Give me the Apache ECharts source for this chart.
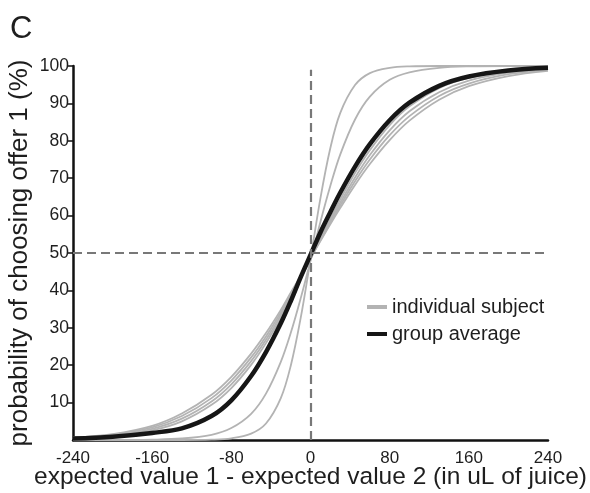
<!DOCTYPE html>
<html>
<head>
<meta charset="utf-8">
<script src="https://cdn.jsdelivr.net/npm/echarts@6/dist/echarts.min.js"></script>
<style>
  html, body { margin: 0; padding: 0; background: #fff; }
  #chart { width: 590px; height: 493px; }
</style>
</head>
<body>
<div id="chart"></div>
<script>
// Value difference (uL of juice) at which each psychometric curve is sampled
const xValues = [-240, -200, -160, -130, -100, -80, -60, -45, -30, -20, -10, 0, 10, 20, 30, 45, 60, 80, 100, 130, 160, 200, 240];

// Probability of choosing offer 1 (%) for each subject
const subject1 = [0, 0, 0, 0, 0.1, 0.45, 1.7, 4.4, 11.2, 19.8, 32.5, 48.3, 64.6, 78.0, 87.4, 94.9, 98.1, 99.5, 99.9, 100, 100, 100, 100];
const subject2 = [0, 0, 0.1, 0.4, 1.4, 3.2, 7.0, 12.4, 20.9, 28.6, 37.8, 47.9, 58.3, 67.9, 76.3, 85.7, 91.8, 96.3, 98.3, 99.5, 99.9, 100, 100];
const subject3 = [0.4, 1.0, 2.6, 5.0, 9.4, 13.9, 20.1, 25.9, 32.7, 37.7, 43.0, 48.4, 53.8, 59.1, 64.3, 71.4, 77.5, 84.2, 89.2, 94.1, 96.8, 98.6, 99.4];
const subject4 = [0.5, 1.2, 3.0, 5.7, 10.3, 14.9, 21.1, 26.8, 33.4, 38.3, 43.3, 48.5, 53.6, 58.6, 63.4, 70.2, 76.2, 82.8, 87.9, 93.0, 96.1, 98.2, 99.2];
const subject5 = [0.6, 1.4, 3.4, 6.4, 11.2, 15.9, 22.1, 27.7, 34.1, 38.9, 43.6, 48.6, 53.4, 58.1, 62.7, 69.2, 75.0, 81.5, 86.6, 92.0, 95.3, 97.8, 99.0];
const subject6 = [0.7, 1.6, 3.8, 7.1, 12.1, 16.9, 23.1, 28.6, 34.8, 39.4, 43.9, 48.6, 53.2, 57.7, 62.0, 68.2, 73.8, 80.2, 85.4, 91.0, 94.6, 97.3, 98.7];

// Group average curve
const groupAverage = [0.4, 0.9, 1.9, 3.1, 6.4, 10.6, 17.1, 23.5, 31.2, 37.1, 43.5, 49.5, 55.5, 60.9, 66.1, 73.1, 79.1, 85.5, 90.2, 94.7, 97.2, 98.8, 99.5];

// Axis ticks
const yTickValues = [10, 20, 30, 40, 50, 60, 70, 80, 90, 100];
const xRange = [-240, 240];
const xStep = 80;

const FONT = '"Liberation Sans", Arial, Helvetica, sans-serif';
const GRAY = '#b3b3b3';
const BLACK = '#161616';

const subjects = [subject1, subject2, subject3, subject4, subject5, subject6];
const toPairs = ys => xValues.map((x, i) => [x, ys[i]]);

const guideLines = {
  silent: true,
  symbol: 'none',
  label: { show: false },
  lineStyle: { color: '#787878', width: 2.2, type: [9, 5] },
  data: [
    [{ coord: [0, 0] }, { coord: [0, 99] }],
    [{ coord: [xRange[0], 50] }, { coord: [xRange[1], 50] }]
  ]
};

const subjectSeries = subjects.map((ys, i) => ({
  type: 'line',
  name: 'individual subject',
  data: toPairs(ys),
  smooth: 0.35,
  symbol: 'none',
  showSymbol: false,
  itemStyle: { color: GRAY },
  lineStyle: { color: GRAY, width: 1.8 },
  z: 2,
  markLine: i === 0 ? guideLines : undefined
}));

const chart = echarts.init(document.getElementById('chart'), null, { renderer: 'canvas' });
chart.setOption({
  animation: false,
  backgroundColor: '#fff',
  textStyle: { fontFamily: FONT },
  grid: { left: 73, right: 42, top: 66, bottom: 53, containLabel: false, outerBoundsMode: 'none' },
  graphic: [{
    type: 'text',
    left: 10,
    top: 14,
    style: { text: 'C', fontSize: 31, fontFamily: FONT, fill: '#1e1e1e' }
  }],
  legend: {
    data: ['individual subject', 'group average'],
    orient: 'vertical',
    left: 362,
    top: 292,
    itemWidth: 20,
    itemHeight: 4,
    itemGap: 7,
    icon: 'rect',
    textStyle: { fontSize: 20, fontFamily: FONT, color: '#1e1e1e', lineHeight: 20 }
  },
  xAxis: {
    type: 'value',
    min: xRange[0],
    max: xRange[1],
    interval: xStep,
    axisLine: { onZero: false, lineStyle: { color: '#111', width: 2.5 } },
    axisTick: { show: false },
    splitLine: { show: false },
    axisLabel: { margin: 10, fontSize: 17, color: '#1e1e1e', fontFamily: FONT },
    name: 'expected value 1 - expected value 2 (in uL of juice)',
    nameLocation: 'middle',
    nameMoveOverlap: false,
    nameGap: 25,
    nameTextStyle: { fontSize: 24.5, color: '#1e1e1e', fontFamily: FONT }
  },
  yAxis: {
    type: 'value',
    min: 0,
    max: 100,
    interval: 10,
    axisLine: { show: true, onZero: false, lineStyle: { color: '#111', width: 2.5 } },
    axisTick: { show: true, length: 6, customValues: yTickValues, lineStyle: { color: '#111', width: 1.5 } },
    splitLine: { show: false },
    axisLabel: {
      margin: 4, fontSize: 17.5, color: '#1e1e1e', fontFamily: FONT,
      customValues: yTickValues,
      formatter: v => (v === 0 ? '' : String(v))
    },
    name: 'probability of choosing offer 1 (%)',
    nameLocation: 'middle',
    nameMoveOverlap: false,
    nameGap: 40,
    nameTextStyle: { fontSize: 26, color: '#1e1e1e', fontFamily: FONT }
  },
  series: [
    ...subjectSeries,
    {
      type: 'line',
      name: 'group average',
      data: toPairs(groupAverage),
      smooth: 0.35,
      symbol: 'none',
      showSymbol: false,
      itemStyle: { color: BLACK },
      lineStyle: { color: BLACK, width: 4.5 },
      z: 3
    }
  ]
});
</script>
</body>
</html>
